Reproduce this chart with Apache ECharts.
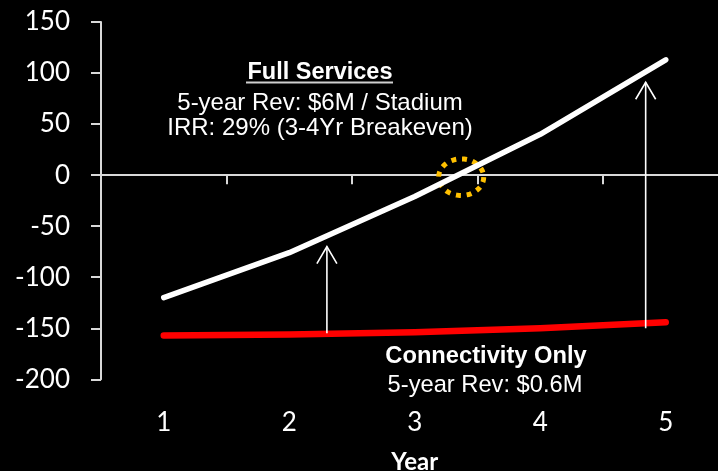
<!DOCTYPE html>
<html>
<head>
<meta charset="utf-8">
<script src="https://cdn.jsdelivr.net/npm/echarts@6/dist/echarts.min.js"></script>
<style>
  html, body { margin: 0; padding: 0; background: #000; }
  #chart { width: 718px; height: 471px; }
</style>
</head>
<body>
<div id="chart"></div>
<script>
// Cumulative cash position per stadium over five years
const yearLabels = ['1', '2', '3', '4', '5'];
const yearValues = [1, 2, 3, 4, 5];
const fullServices = [-120, -76, -21, 40, 113];
const connectivityOnly = [-157, -156, -154, -150, -144];

// Value axis scale
const yMin = -200;
const yMax = 150;
const yStep = 50;

// Uplift arrows: year position, start value, end value
const arrowYear = [2.30, 4.84];
const arrowFrom = [-155, -150];
const arrowTo = [-70, 91];

// Breakeven marker (year, value)
const breakevenPoint = [3.37, -2];

const AXIS_GREY = '#d9d9d9';
const SANS = '"Liberation Sans", Arial, sans-serif';
const LABEL_FONT = 'Lato, "Open Sans", sans-serif';

const chart = echarts.init(document.getElementById('chart'), null, { renderer: 'canvas' });

function ellipsePoints(cx, cy, rx, ry, n) {
  const pts = [];
  for (let i = 0; i < n; i++) {
    const a = (i / n) * Math.PI * 2;
    pts.push([cx + rx * Math.cos(a), cy + ry * Math.sin(a)]);
  }
  return pts;
}

chart.setOption({
  backgroundColor: '#000',
  animation: false,
  grid: {
    left: 101,
    top: 22,
    width: 627.5,
    height: 357.3,
    containLabel: false,
    outerBoundsMode: 'none'
  },
  xAxis: [
    {
      // zero line with year boundary ticks
      type: 'category',
      position: 'top',
      data: yearLabels,
      boundaryGap: true,
      axisLine: { show: true, onZero: true, lineStyle: { color: AXIS_GREY, width: 2 } },
      axisTick: { show: true, inside: true, length: 9, lineStyle: { color: AXIS_GREY, width: 2 } },
      axisLabel: { show: false },
      splitLine: { show: false }
    },
    {
      // year labels along the bottom
      type: 'category',
      position: 'bottom',
      data: yearLabels,
      boundaryGap: true,
      axisLine: { show: false, onZero: false },
      axisTick: { show: false },
      axisLabel: { color: '#fff', fontFamily: LABEL_FONT, fontSize: 26, margin: 30 },
      splitLine: { show: false },
      name: 'Year',
      nameLocation: 'middle',
      nameGap: 71,
      nameTextStyle: { color: '#fff', fontFamily: LABEL_FONT, fontWeight: 'bold', fontSize: 24 }
    },
    {
      // numeric year scale for the plotted marks
      type: 'value',
      position: 'bottom',
      min: 0.5,
      max: 5.5,
      show: false
    }
  ],
  yAxis: {
    type: 'value',
    min: yMin,
    max: yMax,
    interval: yStep,
    axisLine: { show: true, lineStyle: { color: AXIS_GREY, width: 2 } },
    axisTick: { show: true, length: 10, lineStyle: { color: AXIS_GREY, width: 2 } },
    axisLabel: { color: '#fff', fontFamily: LABEL_FONT, fontSize: 26, margin: 31 },
    splitLine: { show: false }
  },
  series: [
    {
      name: 'Breakeven',
      type: 'custom',
      xAxisIndex: 2,
      yAxisIndex: 0,
      z: 1,
      silent: true,
      data: [breakevenPoint],
      renderItem: function (params, api) {
        const c = api.coord([api.value(0), api.value(1)]);
        return {
          type: 'polygon',
          shape: { points: ellipsePoints(c[0], c[1], 22.5, 18.3, 96) },
          style: { stroke: '#ffc000', lineWidth: 5, fill: null, lineDash: [5, 5.8], lineCap: 'butt' }
        };
      }
    },
    {
      name: 'Connectivity Only',
      type: 'line',
      xAxisIndex: 2,
      yAxisIndex: 0,
      z: 3,
      symbol: 'none',
      data: yearValues.map((y, i) => [y, connectivityOnly[i]]),
      lineStyle: { color: '#ff0000', width: 6.5, cap: 'round', join: 'round' }
    },
    {
      name: 'Full Services',
      type: 'line',
      xAxisIndex: 2,
      yAxisIndex: 0,
      z: 3,
      symbol: 'none',
      data: yearValues.map((y, i) => [y, fullServices[i]]),
      lineStyle: { color: '#ffffff', width: 5.5, cap: 'round', join: 'round' }
    },
    {
      name: 'Uplift',
      type: 'custom',
      xAxisIndex: 2,
      yAxisIndex: 0,
      z: 4,
      silent: true,
      data: arrowYear.map((x, i) => [x, arrowFrom[i], arrowTo[i]]),
      encode: { x: 0, y: [1, 2] },
      renderItem: function (params, api) {
        const p0 = api.coord([api.value(0), api.value(1)]);
        const p1 = api.coord([api.value(0), api.value(2)]);
        return {
          type: 'group',
          children: [
            {
              type: 'line',
              shape: { x1: p0[0], y1: p0[1], x2: p1[0], y2: p1[1] },
              style: { stroke: '#fff', lineWidth: 1.6 }
            },
            {
              type: 'polyline',
              shape: { points: [[p1[0] - 10, p1[1] + 17], [p1[0], p1[1]], [p1[0] + 10, p1[1] + 17]] },
              style: { stroke: '#fff', lineWidth: 1.6, fill: null }
            }
          ]
        };
      }
    }
  ],
  graphic: [
    {
      type: 'text', x: 320, y: 72.5, z: 10,
      style: { text: 'Full Services', fill: '#fff', font: 'bold 23.5px ' + SANS, align: 'center', verticalAlign: 'middle' }
    },
    {
      type: 'line', z: 10,
      shape: { x1: 246, y1: 82.5, x2: 393, y2: 82.5 },
      style: { stroke: '#d0d0d0', lineWidth: 2 }
    },
    {
      type: 'text', x: 320, y: 103, z: 10,
      style: { text: '5-year Rev: $6M / Stadium', fill: '#fff', font: '24px ' + SANS, align: 'center', verticalAlign: 'middle' }
    },
    {
      type: 'text', x: 320, y: 128.5, z: 10,
      style: { text: 'IRR: 29% (3-4Yr Breakeven)', fill: '#fff', font: '24px ' + SANS, align: 'center', verticalAlign: 'middle' }
    },
    {
      type: 'text', x: 486, y: 356, z: 10,
      style: { text: 'Connectivity Only', fill: '#fff', font: 'bold 23.7px ' + SANS, align: 'center', verticalAlign: 'middle' }
    },
    {
      type: 'text', x: 485, y: 385, z: 10,
      style: { text: '5-year Rev: $0.6M', fill: '#fff', font: '23.7px ' + SANS, align: 'center', verticalAlign: 'middle' }
    }
  ]
});
</script>
</body>
</html>
